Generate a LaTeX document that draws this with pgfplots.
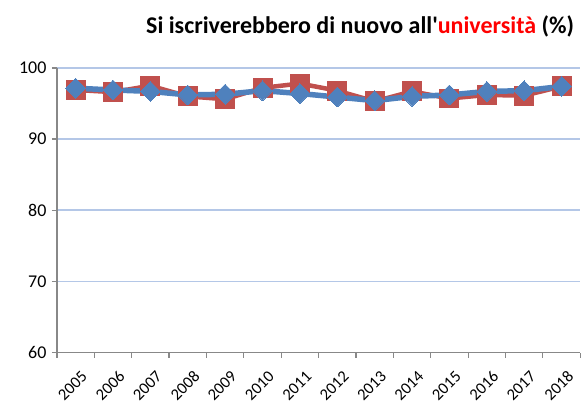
\documentclass[border=0pt]{standalone}
\usepackage{pgfplots}
\pgfplotsset{compat=1.18}
\usepackage{fontspec}
\setmainfont{Carlito}
\newfontfamily\titlefont{Carlito}
\definecolor{serRed}{HTML}{C0504D}
\definecolor{serBlue}{HTML}{4F81BD}
\definecolor{gridBlue}{HTML}{B4C7E7}
\definecolor{axGrey}{HTML}{888888}

\begin{document}
\begin{tikzpicture}
\begin{axis}[
    scale only axis,
    width=524pt, height=285pt,
    xmin=-0.5, xmax=13.5,
    ymin=60, ymax=100,
    ytick={60,70,80,90,100},
    xtick={0,...,13},
    xticklabels={2005,2006,2007,2008,2009,2010,2011,2012,2013,2014,2015,2016,2017,2018},
    minor xtick={-0.5,0.5,...,13.5},
    axis x line*=bottom,
    axis y line*=left,
    axis line style={axGrey, line width=1.2pt},
    x axis line style={-}, y axis line style={-},
    tick align=outside,
    major tick length=5pt,
    minor tick length=5pt,
    x tick style={draw=none},
    minor x tick style={draw=axGrey, line width=1.2pt},
    y tick style={axGrey, line width=1.2pt},
    ymajorgrids=true,
    grid style={gridBlue, line width=1.5pt},
    yticklabel style={font=\fontsize{18}{20}\selectfont, xshift=-2pt},
    /pgf/number format/assume math mode=true,
    xticklabel style={font=\fontsize{16.5}{18}\selectfont, rotate=45, anchor=north east, inner sep=1pt, yshift=-11pt, xshift=-4pt},
    clip=false,
]
\path (rel axis cs:0,0) ++(-57pt,-53pt) rectangle ++(581pt,406pt);

\addplot[color=serRed, line width=4.5pt, mark=square*, mark size=9.5pt,
    mark options={solid, fill=serRed, draw=serRed, line width=0pt}]
    coordinates {
    (0, 96.9) (1, 96.6) (2, 97.5) (3, 96.0) (4, 95.6) (5, 97.2) (6, 97.8)
    (7, 96.8) (8, 95.3) (9, 96.7) (10, 95.7) (11, 96.2) (12, 96.1) (13, 97.4)
    };

\addplot[color=serBlue, line width=5.5pt, mark=square*, mark size=7pt,
    mark options={solid, rotate=45, fill=serBlue, draw=serBlue, line width=0pt}]
    coordinates {
    (0, 97.15) (1, 96.9) (2, 96.7) (3, 96.2) (4, 96.3) (5, 96.8) (6, 96.4)
    (7, 95.9) (8, 95.4) (9, 96.0) (10, 96.2) (11, 96.7) (12, 96.8) (13, 97.4)
    };

\node[anchor=base east, font=\titlefont\bfseries\fontsize{24}{28}\selectfont, inner sep=0pt]
    at (rel axis cs:1,1) [xshift=-6pt, yshift=34pt]
    {Si iscriverebbero di nuovo all'\textcolor{red}{università} (\%)};
\end{axis}
\end{tikzpicture}
\end{document}
